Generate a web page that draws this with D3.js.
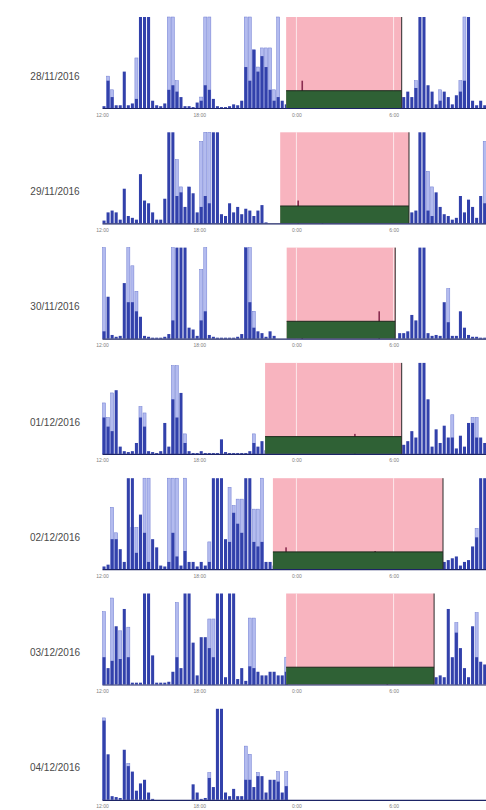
<!DOCTYPE html>
<html>
<head>
<meta charset="utf-8">
<script src="https://cdn.jsdelivr.net/npm/d3@7/dist/d3.min.js"></script>
<style>
  html, body { margin: 0; padding: 0; background: #fff; }
  svg { display: block; }
</style>
</head>
<body>
<svg id="chart" width="486" height="810"></svg>
<script>
// Recording days
const days = ["28/11/2016", "29/11/2016", "30/11/2016", "01/12/2016", "02/12/2016", "03/12/2016", "04/12/2016"];

// Axis ticks: hours after 12:00
const tickHours = [0, 6, 12, 18];
const tickLabels = ["12:00", "18:00", "0:00", "6:00"];

// Rest interval per day (clock time), null when none was scored
const sleepOnset  = ["23:22", "23:00", "23:24", "22:04", "22:33", "23:22", null];
const sleepOffset = ["06:30", "06:57", "06:06", "06:30", "09:03", "08:30", null];

// Activity counts (% of scale) in 15-minute epochs starting at 12:00
const act28 = [
  2,30,12,3,3,40,3,5,10,100,100,100,
  8,3,2,5,20,25,18,12,2,2,1,6,
  8,25,20,10,2,1,1,2,4,3,8,45,
  30,64,40,57,45,20,8,12,8,4,0,0,
  2,30,0,0,1,0,0,0,0,0,0,0,
  0,0,0,0,0,0,0,1,0,0,0,0,
  0,0,12,18,12,22,100,100,25,18,4,8,
  18,12,4,14,18,30,100,8,3,8,3,2];
const act29 = [
  3,12,14,12,4,38,8,6,4,54,25,22,
  12,4,4,27,100,100,30,34,18,40,33,12,
  18,30,22,100,100,10,8,22,12,18,10,16,
  14,8,14,20,1,0,0,0,0,0,0,0,
  25,0,0,0,0,0,1,0,0,0,0,0,
  0,0,0,0,0,0,0,0,0,0,0,0,
  0,0,0,0,12,14,100,100,14,8,34,18,
  10,8,4,6,30,12,26,18,6,30,22,18];
const act30 = [
  8,46,4,2,3,61,40,40,30,24,3,2,
  1,1,1,2,5,20,100,100,100,12,10,3,
  20,30,4,2,1,1,1,1,1,2,5,100,
  40,12,8,6,2,8,3,0,0,0,0,0,
  0,10,0,0,0,0,0,0,0,0,0,0,
  0,0,0,0,0,0,0,0,30,0,0,0,
  0,6,6,8,26,20,100,100,6,3,4,3,
  40,18,3,3,30,12,4,2,2,1,1,1];
const act01 = [
  40,30,25,70,8,3,2,3,12,40,30,3,
  2,1,3,34,8,60,40,67,12,3,1,1,
  3,1,1,1,1,16,2,1,1,1,1,1,
  3,12,8,14,4,0,0,0,0,0,0,0,
  0,0,0,0,0,0,0,0,0,0,0,0,
  0,0,22,0,0,0,0,0,0,0,0,0,
  0,0,10,14,25,18,100,100,60,8,27,12,
  31,18,18,6,20,8,34,34,18,18,12,8];
const act02 = [
  3,5,33,33,22,8,100,100,18,60,40,8,
  33,24,4,3,8,40,14,4,20,8,8,3,
  8,4,8,100,100,100,33,30,62,50,40,100,
  100,30,25,30,8,8,4,0,0,24,8,0,
  0,0,0,0,0,0,0,0,0,0,0,0,
  0,0,0,0,0,0,0,20,0,0,0,0,
  0,0,0,0,0,0,0,0,0,0,0,0,
  8,10,12,14,4,8,10,25,35,100,100,60];
const act03 = [
  30,18,26,64,28,83,30,2,2,2,100,100,
  32,2,2,2,3,14,30,18,100,100,46,10,
  52,52,40,30,100,100,8,100,100,6,18,4,
  20,18,14,10,10,14,14,10,10,14,0,0,
  0,0,0,0,0,0,0,0,0,0,0,0,
  0,0,0,0,0,0,0,0,0,0,8,0,
  0,0,0,0,0,0,0,0,0,0,8,10,
  8,83,30,57,40,18,8,64,30,25,22,18];
const act04 = [
  87,50,4,3,2,55,37,31,10,18,22,8,
  1,0,0,0,0,0,0,0,0,0,17,8,
  1,2,24,14,100,100,8,4,12,4,4,22,
  22,14,26,26,8,22,22,20,8,15,0,0,
  0,0,0,0,0,0,0,0,0,0,0,0,
  0,0,0,0,0,0,0,0,0,0,0,0,
  0,0,0,0,0,0,0,0,0,0,0,0,
  0,0,0,0,0,0,0,0,0,0,0,0];

// Light exposure (% of scale) in the same epochs
const lux28 = [
  0,35,20,0,0,0,0,0,55,0,0,0,
  0,0,0,0,100,100,30,0,0,0,0,0,
  12,100,100,0,0,0,0,0,0,0,0,100,
  100,64,45,66,66,66,20,100,0,0,0,0,
  0,0,0,0,0,0,0,0,0,0,0,0,
  0,0,0,0,0,0,0,0,0,0,0,0,
  0,0,0,0,0,30,0,0,0,0,0,20,
  0,0,0,0,30,100,0,0,0,0,0,0];
const lux29 = [
  0,0,0,0,0,0,0,0,0,0,0,0,
  0,0,0,0,0,0,70,40,0,40,0,0,
  90,100,100,0,0,0,0,0,0,0,0,0,
  0,0,0,0,0,0,0,0,0,0,0,0,
  0,0,0,0,0,0,0,0,0,0,0,0,
  0,0,0,0,0,0,0,0,0,0,0,0,
  0,0,0,0,0,0,0,0,57,40,0,0,
  0,0,0,0,0,0,0,0,0,0,90,90];
const lux30 = [
  100,0,0,0,0,0,100,80,52,0,0,0,
  0,0,0,0,0,100,0,0,0,0,0,0,
  76,100,0,0,0,0,0,0,0,0,0,100,
  100,30,0,0,0,0,0,0,0,0,0,0,
  0,0,0,0,0,0,0,0,0,0,0,0,
  0,0,0,0,0,0,0,0,0,0,0,0,
  0,0,0,0,0,0,0,0,0,0,0,0,
  0,55,0,0,0,0,0,0,0,0,0,0];
const lux01 = [
  56,40,67,0,0,0,0,0,0,52,45,0,
  0,0,0,0,0,97,97,0,22,0,0,0,
  0,0,0,0,0,0,0,0,0,0,0,0,
  0,22,0,0,0,0,0,0,0,0,0,0,
  0,0,0,0,0,0,0,0,0,0,0,0,
  0,0,0,0,0,0,0,0,0,0,0,0,
  0,0,0,0,0,0,0,0,0,0,0,0,
  0,0,43,0,0,0,0,40,40,0,0,0];
const lux02 = [
  0,0,68,40,0,0,0,46,46,0,100,100,
  0,0,0,0,100,100,100,0,100,0,0,0,
  0,0,30,0,0,0,0,90,70,77,77,0,
  0,66,66,100,0,0,0,0,0,0,0,0,
  0,0,0,0,0,0,0,0,0,0,0,0,
  0,0,0,0,0,0,0,0,0,0,0,0,
  0,0,0,0,0,0,0,0,0,0,0,0,
  0,0,0,0,0,0,0,0,45,0,0,0];
const lux03 = [
  80,0,95,0,59,0,63,0,0,0,0,0,
  0,0,0,0,0,0,90,0,0,0,0,0,
  0,0,72,72,0,0,0,0,0,0,0,0,
  73,73,0,0,0,0,0,0,0,30,0,0,
  0,0,0,0,0,0,0,0,0,0,0,0,
  0,0,0,0,0,0,0,0,0,0,0,0,
  0,0,0,0,0,0,0,0,0,0,0,0,
  0,0,0,68,0,0,0,0,79,0,0,0];
const lux04 = [
  90,0,0,0,0,0,40,0,0,0,0,0,
  0,0,0,0,0,0,0,0,0,0,0,0,
  0,0,30,0,0,0,0,0,0,0,0,59,
  50,0,30,0,0,0,0,31,0,31,0,0,
  0,0,0,0,0,0,0,0,0,0,0,0,
  0,0,0,0,0,0,0,0,0,0,0,0,
  0,0,0,0,0,0,0,0,0,0,0,0,
  0,0,0,0,0,0,0,0,0,0,0,0];

const activity = [act28, act29, act30, act01, act02, act03, act04];
const light = [lux28, lux29, lux30, lux01, lux02, lux03, lux04];

// ---- layout ----
const svg = d3.select("#chart");
const firstBase = 108, panelStep = 115.3, plotH = 91;
const epochH = 0.25;           // epoch length in hours
const restBand = 19;           // height of the rest band on the activity scale

const x = d3.scaleLinear().domain([0, 24]).range([102, 102 + 16.2 * 24]);

// clock "HH:MM" -> hours after noon
function sinceNoon(t) {
  const [h, m] = t.split(":").map(Number);
  let v = h + m / 60 - 12;
  if (v < 0) v += 24;
  return v;
}

const colDark = "#3241ab", colPale = "#b3bbef", colPaleEdge = "#6f7cd2";
const colRest = "#f8b4bf", colBand = "#2f6135", colInRest = "#8a2d50";

days.forEach((day, i) => {
  const base = firstBase + i * panelStep;
  const y = d3.scaleLinear().domain([0, 100]).range([base, base - plotH]).clamp(true);
  const g = svg.append("g");

  const on = sleepOnset[i] ? sinceNoon(sleepOnset[i]) : null;
  const off = sleepOffset[i] ? sinceNoon(sleepOffset[i]) : null;
  const inRest = k => on !== null && (k * epochH) >= on && (k + 1) * epochH <= off;

  const pale = light[i].map((v, k) => ({ k, v })).filter(d => d.v > 0);
  const dark = activity[i].map((v, k) => ({ k, v })).filter(d => d.v > 0);
  const w = k => x((k + 1) * epochH) - x(k * epochH);

  g.selectAll("rect.pale").data(pale).join("rect")
    .attr("class", "pale")
    .attr("x", d => x(d.k * epochH) + 0.5)
    .attr("width", d => w(d.k) - 1)
    .attr("y", d => y(d.v))
    .attr("height", d => base - y(d.v))
    .attr("fill", colPale)
    .attr("stroke", colPaleEdge)
    .attr("stroke-width", 0.5);

  g.selectAll("rect.dark").data(dark.filter(d => !inRest(d.k))).join("rect")
    .attr("class", "dark")
    .attr("x", d => x(d.k * epochH) + 0.5)
    .attr("width", d => w(d.k) - 1)
    .attr("y", d => y(d.v))
    .attr("height", d => base - y(d.v))
    .attr("fill", colDark);

  if (on !== null) {
    // rest interval
    g.append("rect")
      .attr("x", x(on)).attr("width", x(off) - x(on))
      .attr("y", y(100)).attr("height", base - y(100))
      .attr("fill", colRest);

    // gridlines at the hour ticks inside the rest interval
    g.selectAll("line.grid").data(tickHours.filter(h => h > on && h < off)).join("line")
      .attr("class", "grid")
      .attr("x1", d => x(d)).attr("x2", d => x(d))
      .attr("y1", y(100)).attr("y2", base)
      .attr("stroke", "#fff").attr("stroke-width", 1).attr("opacity", 0.7);

    // activity during rest
    g.selectAll("rect.rest").data(dark.filter(d => inRest(d.k))).join("rect")
      .attr("class", "rest")
      .attr("x", d => x(d.k * epochH) + 1)
      .attr("width", 1.6)
      .attr("y", d => y(d.v))
      .attr("height", d => base - y(d.v))
      .attr("fill", colInRest);

    // rest band
    g.append("rect")
      .attr("x", x(on)).attr("width", x(off) - x(on))
      .attr("y", y(restBand)).attr("height", base - y(restBand))
      .attr("fill", colBand);
    g.append("line")
      .attr("x1", x(on)).attr("x2", x(off))
      .attr("y1", y(restBand)).attr("y2", y(restBand))
      .attr("stroke", "#1b2a1c").attr("stroke-width", 1);

    // end of rest marker
    g.append("line")
      .attr("x1", x(off)).attr("x2", x(off))
      .attr("y1", y(100)).attr("y2", base)
      .attr("stroke", "#2a2a2a").attr("stroke-width", 1);
  }

  // time axis
  const axis = d3.axisBottom(x)
    .tickValues(tickHours)
    .tickFormat((d, j) => tickLabels[j])
    .tickSize(0)
    .tickPadding(5);
  const ax = g.append("g").attr("transform", `translate(0,${base})`).call(axis);
  ax.select(".domain").attr("stroke", "#1d2466").attr("stroke-width", 1.2);
  ax.selectAll("text")
    .attr("font-family", "Liberation Sans, Arial, sans-serif")
    .attr("font-size", 5)
    .attr("fill", "#808080");

  // day label
  g.append("text")
    .attr("x", 55).attr("y", base - 31)
    .attr("text-anchor", "middle")
    .attr("dominant-baseline", "middle")
    .attr("font-family", "Liberation Sans, Arial, sans-serif")
    .attr("font-size", 10)
    .attr("fill", "#4a4a4a")
    .text(day);
});
</script>
</body>
</html>
